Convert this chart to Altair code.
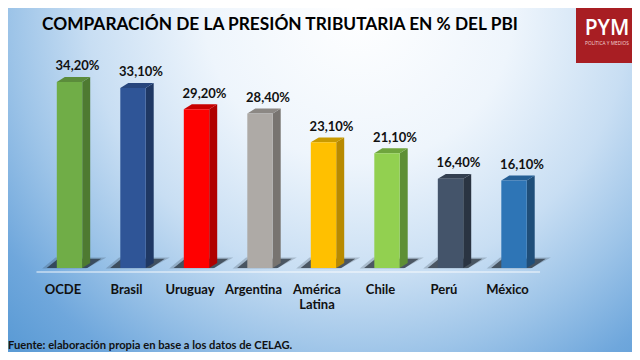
import altair as alt
import pandas as pd

categories = ["OCDE", "Brasil", "Uruguay", "Argentina", "América Latina", "Chile", "Perú", "México"]
values = [34.2, 33.1, 29.2, 28.4, 23.1, 21.1, 16.4, 16.1]
front_colors = ["#70AD47", "#2F5597", "#FF0000", "#AEAAA6", "#FFC000", "#92D050", "#44546A", "#2E75B6"]
side_colors = ["#4E7A31", "#1F3864", "#B00000", "#787470", "#B88A00", "#5E8F35", "#2A3442", "#1F4E79"]
top_colors = ["#5B8C3B", "#27467D", "#C80000", "#8C8884", "#C99A00", "#6FA53D", "#333F50", "#255F95"]
title_text = "COMPARACIÓN DE LA PRESIÓN TRIBUTARIA EN % DEL PBI"
source_text = "Fuente: elaboración propia en base a los datos de CELAG."

W, H = 624, 344
FONT = "Lato"
HALF = 0.2      # half bar width (category units)
DX = 0.126      # 3D depth, horizontal (category units)
DY = 0.9        # 3D depth, vertical (value units)

xscale = alt.Scale(domain=[-0.9685, 8.858], nice=False, zero=False)
yscale = alt.Scale(domain=[-15.44, 47.79], nice=False, zero=False)

def quad(a0, a1, b0, b1, y0, y1, key, color):
    # quadrilateral: bottom edge [a0,b0] at y0, top edge [a1,b1] at y1
    return [
        {"k": key, "x": a0, "lo": y0, "hi": y0, "c": color},
        {"k": key, "x": a1, "lo": y0, "hi": y1, "c": color},
        {"k": key, "x": b0, "lo": y0, "hi": y1, "c": color},
        {"k": key, "x": b1, "lo": y1, "hi": y1, "c": color},
    ]

bars = pd.DataFrame({
    "cat": categories,
    "i": list(range(len(categories))),
    "v": values,
    "c": front_colors,
})
bars["L"] = bars["i"] - HALF
bars["R"] = bars["i"] + HALF
bars["label"] = [f"{v:.2f}".replace(".", ",") + "%" for v in values]
bars["name"] = [c.split(" ") if " " in c else [c] for c in categories]

side_rows, top_rows, shadow_out, shadow_in = [], [], [], []
for i, (v, sc, tc) in enumerate(zip(values, side_colors, top_colors)):
    L, R = i - HALF, i + HALF
    side_rows += [
        {"k": i, "x": R, "lo": 0, "hi": v, "c": sc},
        {"k": i, "x": R + DX, "lo": DY, "hi": v + DY, "c": sc},
    ]
    top_rows += quad(L, L + DX, R, R + DX, v, v + DY, i, tc)
    shadow_out += quad(L - 0.23, L - 0.02, R + 0.06, R + 0.38, -0.1, 1.95, i, "#1b232c")
    shadow_in += quad(L - 0.16, L + 0.02, R + 0.08, R + 0.3, 0, 1.7, i, "#141a22")

side = pd.DataFrame(side_rows)
top = pd.DataFrame(top_rows)
sh_out = pd.DataFrame(shadow_out)
sh_in = pd.DataFrame(shadow_in)

X = lambda f: alt.X(f, scale=xscale, axis=None)
Y = lambda f: alt.Y(f, scale=yscale, axis=None)

bg = alt.Chart(alt.Data(values=[{}])).mark_rect(
    color={
        "gradient": "radial",
        "x1": 0.55, "y1": 0.0, "r1": 0.0,
        "x2": 0.55, "y2": 0.0, "r2": 0.62,
        "stops": [
            {"offset": 0.0, "color": "#FFFFFF"},
            {"offset": 0.32, "color": "#EEF5FC"},
            {"offset": 0.56, "color": "#C8DEF3"},
            {"offset": 0.72, "color": "#9DC4E8"},
            {"offset": 0.88, "color": "#6FA7DC"},
            {"offset": 1.0, "color": "#5B9BD5"},
        ],
    }
).encode(x=alt.value(0), x2=alt.value(W), y=alt.value(0), y2=alt.value(780))

def area_layer(df, **kw):
    return alt.Chart(df).mark_area(interpolate="linear", **kw).encode(
        x=X("x:Q"), y=Y("lo:Q"), y2="hi:Q", detail="k:N", color=alt.Color("c:N", scale=None)
    )

shadow_layer1 = area_layer(sh_out, opacity=0.2)
shadow_layer2 = area_layer(sh_in, opacity=0.62)

floor = alt.Chart(alt.Data(values=[{}])).mark_rule(color="#FFFFFF", opacity=0.6, strokeWidth=1.5).encode(
    x=alt.X(datum=-0.52, scale=xscale, axis=None), x2=alt.X2(datum=7.41),
    y=alt.Y(datum=-0.74, scale=yscale, axis=None)
)

side_layer = area_layer(side)
top_layer = area_layer(top)
front = alt.Chart(bars).mark_rect().encode(
    x=X("L:Q"), x2="R:Q", y=Y("v:Q"), y2=alt.Y2(datum=0),
    color=alt.Color("c:N", scale=None)
)
value_labels = alt.Chart(bars).mark_text(
    font=FONT, fontWeight="bold", fontSize=13, color="#111111", baseline="middle", dx=8, dy=-15.5
).encode(x=X("i:Q"), y=Y("v:Q"), text="label:N")

cat_labels = alt.Chart(bars).mark_text(
    font=FONT, fontWeight="bold", fontSize=13, color="#111111", baseline="top", dx=-6.5, dy=16,
    lineHeight=15
).encode(x=X("i:Q"), y=alt.Y(datum=0, scale=yscale, axis=None), text="name")

title = alt.Chart(alt.Data(values=[{"t": title_text}])).mark_text(
    font=FONT, fontWeight="bold", fontSize=17.3, color="#000000", align="center", baseline="middle"
).encode(x=alt.value(272), y=alt.value(17), text="t:N")

source = alt.Chart(alt.Data(values=[{"t": source_text}])).mark_text(
    font=FONT, fontWeight="bold", fontSize=11.2, color="#111111", align="left", baseline="middle"
).encode(x=alt.value(0), y=alt.value(338), text="t:N")

logo_box = alt.Chart(alt.Data(values=[{}])).mark_rect(color="#A81E23").encode(
    x=alt.value(568), x2=alt.value(W), y=alt.value(0), y2=alt.value(55)
)
logo_text = alt.Chart(alt.Data(values=[{"t": "PYM"}])).mark_text(
    font="Open Sans", fontWeight=600, fontSize=21, color="#FFFFFF", align="center", baseline="middle"
).encode(x=alt.value(599), y=alt.value(21), text="t:N")
logo_sub = alt.Chart(alt.Data(values=[{"t": "POLÍTICA Y MEDIOS"}])).mark_text(
    font="Open Sans", fontSize=4.8, color="#F2D6D6", align="center", baseline="middle"
).encode(x=alt.value(599), y=alt.value(36), text="t:N")

chart = alt.layer(
    bg, shadow_layer1, shadow_layer2, floor, side_layer, top_layer, front, value_labels, cat_labels,
    title, source, logo_box, logo_text, logo_sub
).properties(
    width=W, height=H, autosize=alt.AutoSizeParams(type="none"), padding=0
).configure_view(stroke=None, clip=False)

chart.save("out.html", embed_options={"renderer": "svg", "actions": False})
